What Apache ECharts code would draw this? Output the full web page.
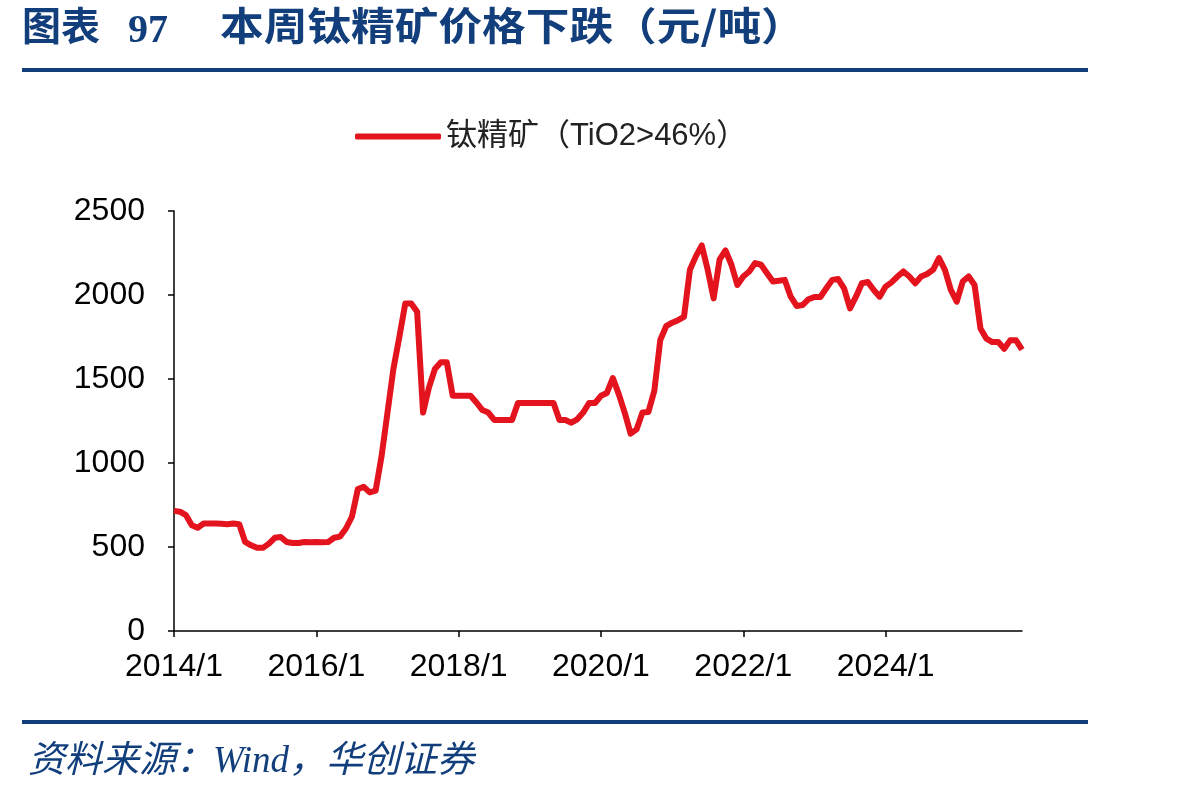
<!DOCTYPE html>
<html>
<head>
<meta charset="utf-8">
<script src="https://cdn.jsdelivr.net/npm/echarts@6/dist/echarts.min.js"></script>
<style>
  html, body { margin: 0; padding: 0; background: #fff; }
  #chart { width: 1198px; height: 800px; }
</style>
</head>
<body>
<div id="chart"></div>
<script>
// 钛精矿（TiO2>46%）月度价格，元/吨，2014/1 - 2025/12
const seriesName = '钛精矿（TiO2>46%）';
const startYear = 2014;
const priceValues = [
  715, 710, 690, 630, 615, 640, 640, 640, 638, 636, 640, 635,
  530, 510, 495, 495, 520, 555, 560, 530, 524, 524, 530, 528,
  530, 528, 530, 555, 562, 610, 680, 845, 858, 825, 835, 1040,
  1300, 1560, 1750, 1950, 1950, 1900, 1300, 1450, 1560, 1600, 1600, 1400,
  1400, 1400, 1400, 1360, 1315, 1300, 1256, 1256, 1256, 1256, 1357, 1357,
  1357, 1357, 1357, 1357, 1357, 1256, 1256, 1240, 1260, 1300, 1357, 1357,
  1400, 1417, 1506, 1410, 1300, 1175, 1200, 1300, 1304, 1430, 1732, 1815,
  1835, 1850, 1870, 2150, 2230, 2295, 2150, 1980, 2210, 2265, 2180, 2060,
  2110, 2140, 2190, 2180, 2130, 2080, 2085, 2090, 1990, 1935, 1940, 1975,
  1988, 1988, 2040, 2090, 2095, 2040, 1920, 1990, 2070, 2077, 2030, 1990,
  2050, 2075, 2110, 2140, 2110, 2070, 2110, 2125, 2150, 2220, 2150, 2030,
  1960, 2080, 2110, 2060, 1800, 1740, 1720, 1720, 1680, 1730, 1730, 1675
];
const monthLabels = priceValues.map((v, i) => (startYear + Math.floor(i / 12)) + '/' + (i % 12 + 1));

const navy = '#123f7c';
const chart = echarts.init(document.getElementById('chart'));
chart.setOption({
  animation: false,
  backgroundColor: '#fff',
  textStyle: { fontFamily: 'Liberation Sans, Arial, sans-serif' },
  grid: { left: 174, right: 176, top: 211, bottom: 169, containLabel: false },
  legend: {
    top: 116,
    left: 350,
    icon: 'roundRect',
    itemWidth: 86,
    itemHeight: 6,
    itemGap: 10,
    textStyle: { fontSize: 31, color: '#222', fontFamily: 'Liberation Sans, Noto Sans CJK SC, sans-serif' },
    data: [seriesName]
  },
  xAxis: {
    type: 'category',
    boundaryGap: false,
    data: monthLabels,
    axisLine: { lineStyle: { color: '#000', width: 1.5 } },
    axisTick: { interval: 23, length: 6, lineStyle: { color: '#000', width: 1.5 } },
    axisLabel: { interval: 23, margin: 20, fontSize: 32, color: '#000' },
    splitLine: { show: false }
  },
  yAxis: {
    type: 'value',
    min: 0,
    max: 2500,
    interval: 500,
    axisLine: { show: true, lineStyle: { color: '#000', width: 1.5 } },
    axisTick: { show: true, length: 6, lineStyle: { color: '#000', width: 1.5 } },
    axisLabel: { margin: 29, fontSize: 32, color: '#000', formatter: v => String(v) },
    splitLine: { show: false }
  },
  series: [{
    name: seriesName,
    type: 'line',
    data: priceValues,
    symbol: 'none',
    lineStyle: { color: '#e3141e', width: 6, join: 'round' },
    itemStyle: { color: '#e3141e' }
  }],
  graphic: [
    {
      type: 'text', x: 22, y: 6,
      style: { text: '图表', fill: navy,
        font: 'bold 39px "Noto Sans CJK SC", sans-serif' }
    },
    {
      type: 'text', x: 128, y: 12,
      style: { text: '97', fill: navy,
        font: 'bold 40px "Liberation Serif", serif' }
    },
    {
      type: 'text', x: 220, y: 6, scaleX: 1.12,
      style: { text: '本周钛精矿价格下跌（元/吨）', fill: navy,
        font: 'bold 39px "Noto Sans CJK SC", sans-serif' }
    },
    {
      type: 'rect', shape: { x: 22, y: 68, width: 1066, height: 4 },
      style: { fill: navy }
    },
    {
      type: 'rect', shape: { x: 22, y: 720, width: 1066, height: 4 },
      style: { fill: navy }
    },
    {
      type: 'text', left: 28, top: 744,
      style: { text: '资料来源：Wind，华创证券', fill: navy,
        font: 'italic 37px "Liberation Serif", "Noto Sans CJK SC", serif' }
    }
  ]
});
</script>
</body>
</html>
